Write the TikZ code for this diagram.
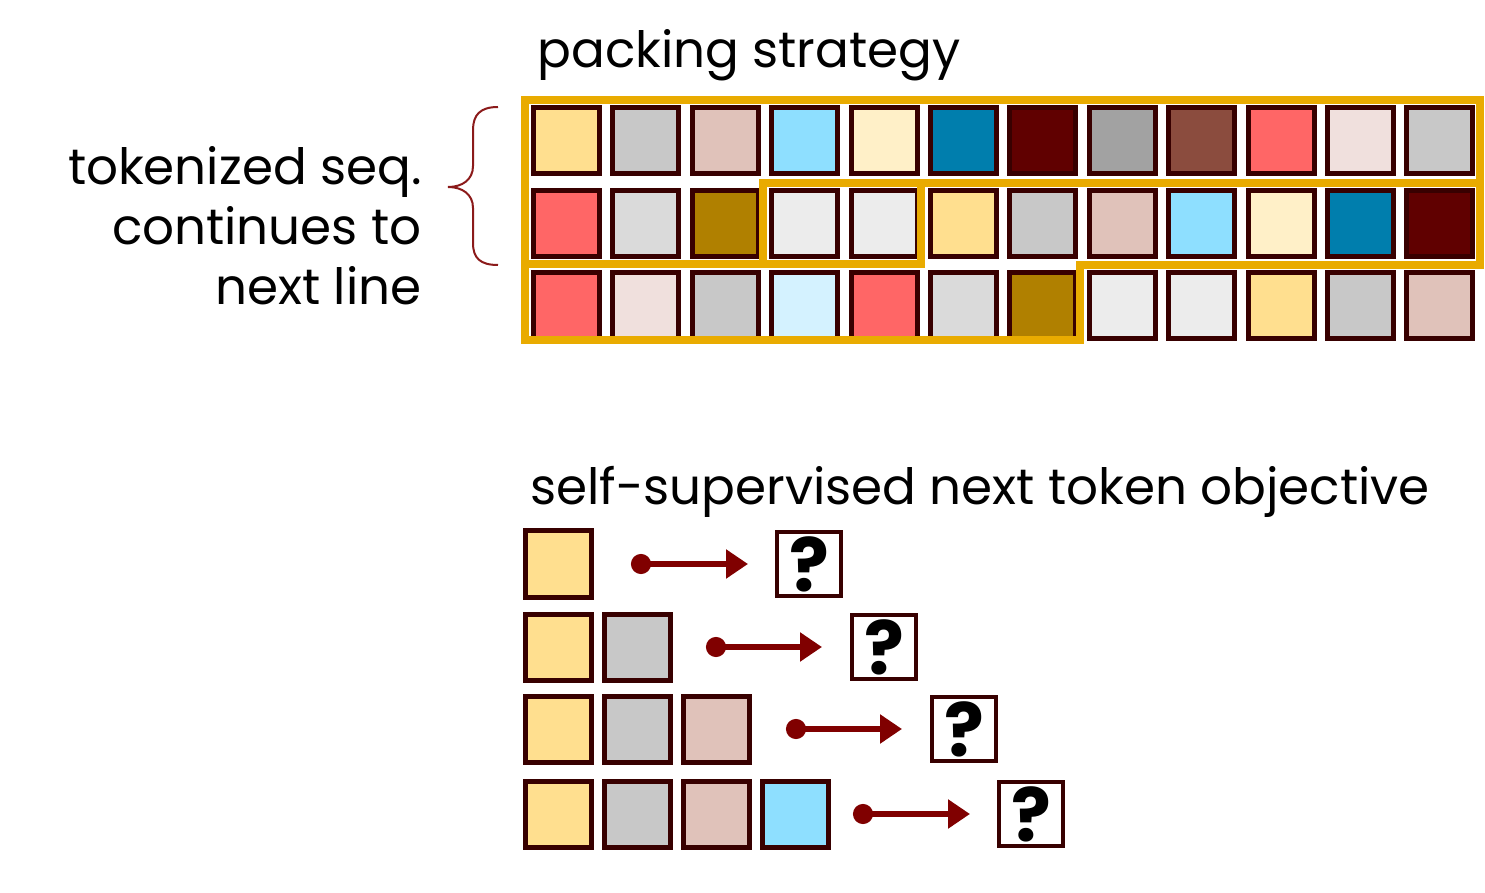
\documentclass[tikz,border=0pt]{standalone}
\usepackage{fontspec}
\setmainfont{Poppins}
\usetikzlibrary{arrows.meta}
\usetikzlibrary{positioning}
\definecolor{tokedge}{HTML}{380000}
\definecolor{packorange}{HTML}{E9AB00}
\definecolor{arrowred}{HTML}{800000}
\definecolor{bracered}{HTML}{8B1A1A}
\definecolor{tokyel}{HTML}{FFDF8F}
\definecolor{tokgray}{HTML}{C8C8C8}
\definecolor{tokrose}{HTML}{E0C2BA}
\definecolor{toksky}{HTML}{8EDFFF}
\definecolor{tokcream}{HTML}{FFF0C8}
\definecolor{tokblue}{HTML}{007EAD}
\definecolor{tokmaroon}{HTML}{600000}
\definecolor{tokdgray}{HTML}{A2A2A2}
\definecolor{tokbrown}{HTML}{8B4C3E}
\definecolor{tokred}{HTML}{FF6666}
\definecolor{tokpink}{HTML}{F0E0DD}
\definecolor{toklgray}{HTML}{DADADA}
\definecolor{tokgold}{HTML}{B08000}
\definecolor{tokwhite}{HTML}{ECECEC}
\definecolor{tokice}{HTML}{D4F2FF}
\tikzset{tok/.style = {draw = tokedge, line width = 2.5pt, minimum size = 33pt, inner sep = 0}}
\tikzset{qbox/.style = {draw = tokedge, fill = white, line width = 2pt, minimum size = 32pt, inner sep = 0,
  font = \fontsize{37}{37}\selectfont\bfseries}}
\tikzset{packline/.style = {draw = packorange, line width = 4pt, line join = miter}}
\tikzset{nextarrow/.style = {draw = arrowred, line width = 3pt,
  {Circle[length = 10pt]}-{Triangle[length = 11pt, width = 14pt]}}}
\tikzset{label/.style = {inner sep = 0, font = \fontsize{25}{30}\selectfont}}

\begin{document}
\begin{tikzpicture}[x = 0.5pt, y = -0.5pt]
      \useasboundingbox (0, 0) rectangle (1485, 893);

      \foreach \c [count = \i] in {tokyel, tokgray, tokrose, toksky, tokcream, tokblue,
          tokmaroon, tokdgray, tokbrown, tokred, tokpink, tokgray} {
        \node [tok, fill = \c] (ra-\i) at ({566.5 + 79.4*(\i - 1)}, 141) {};
      }
      \foreach \c [count = \i] in {tokred, toklgray, tokgold, tokwhite, tokwhite, tokyel,
          tokgray, tokrose, toksky, tokcream, tokblue, tokmaroon} {
        \node [tok, fill = \c] (rb-\i) at ({566.5 + 79.4*(\i - 1)}, 224) {};
      }
      \foreach \c [count = \i] in {tokred, tokpink, tokgray, tokice, tokred, toklgray,
          tokgold, tokwhite, tokwhite, tokyel, tokgray, tokrose} {
        \node [tok, fill = \c] (rc-\i) at ({566.5 + 79.4*(\i - 1)}, 306) {};
      }

      \draw [packline] (525, 100) -- (1480, 100) -- (1480, 183) -- (763, 183)
        -- (763, 264) -- (525, 264) -- cycle;
      \draw [packline] (763, 183) -- (921, 183) -- (921, 264) -- (763, 264) -- cycle;
      \draw [packline] (921, 183) -- (1480, 183) -- (1480, 265) -- (1080, 265)
        -- (1080, 340) -- (525, 340) -- (525, 264) -- (921, 264) -- cycle;

      \draw [bracered, line width = 1pt] (498, 107) .. controls (480, 107) and (473, 115) .. (473, 130)
        -- (473, 166) .. controls (473, 180) and (462, 187) .. (448, 187)
        .. controls (462, 187) and (473, 194) .. (473, 208)
        -- (473, 243) .. controls (473, 258) and (480, 265) .. (498, 265);

      \node [label, anchor = base east, align = right] (seqlabel) at (422, 305)
        {tokenized seq.\\continues to\\next line};
      \node [label, anchor = base west] (packtitle) at (537, 68) {packing strategy};
      \node [label, anchor = base west] (objtitle) at (530, 505) {self-supervised next token objective};

      \foreach \k/\y/\s/\e/\q in {1/564/631/748/809, 2/647/706/822/884, 3/729/786/902/964, 4/814/853/970/1031} {
        \foreach \c [count = \j] in {tokyel, tokgray, tokrose, toksky} {
          \ifnum\j>\k\else
            \node [tok, fill = \c] (p\k-\j) at ({558 + 79*(\j - 1)}, \y) {};
          \fi
        }
        \node [qbox] (q\k) at (\q, \y) {?};
        \coordinate (s\k) at (\s, \y);
        \coordinate (e\k) at (\e, \y);
        \draw [nextarrow] (s\k) -- (e\k);
      }
    \end{tikzpicture}
\end{document}
